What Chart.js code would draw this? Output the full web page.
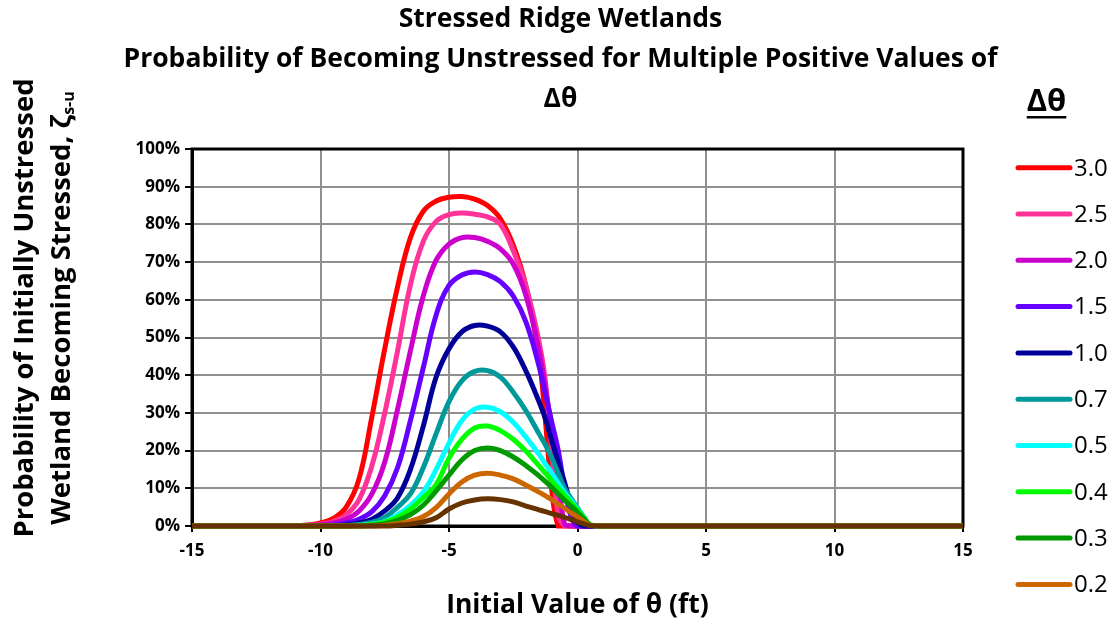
<!DOCTYPE html>
<html>
<head>
<meta charset="utf-8">
<title>Stressed Ridge Wetlands</title>
<script src="https://cdn.jsdelivr.net/npm/chart.js@4.4.1/dist/chart.umd.min.js"></script>
<style>
  html, body { margin: 0; padding: 0; background: #fff; }
  #wrap { width: 1117px; height: 623px; }
</style>
</head>
<body>
<div id="wrap"><canvas id="probChart" width="1117" height="623"></canvas></div>
<script>
// initial theta (ft) sample points shared by all curves
var thetaVals = [-15, -12, -11, -10.5, -10, -9.5, -9, -8.5, -8, -7.5, -7, -6.5, -6, -5.5, -5, -4.5,
                 -4, -3.5, -3, -2.5, -2, -1.5, -1.25, -1, -0.75, -0.5, -0.25, 0, 0.25, 0.5, 1, 15];

var dThetaLabels = ['3.0', '2.5', '2.0', '1.5', '1.0', '0.7', '0.5', '0.4', '0.3', '0.2', '0.1'];
var lineColors = ['#ff0000', '#ff3399', '#cc00cc', '#6600ff', '#000099', '#009999',
                  '#00ffff', '#00ff00', '#009900', '#cc6600', '#663300'];

var titleLines = ['Stressed Ridge Wetlands',
                  'Probability of Becoming Unstressed for Multiple Positive Values of',
                  '\u0394\u03b8'];

// probability (%)
var p30 = [0,0,0.1,0.3,0.8,2,5,12.5,29,47,63.5,76.5,83.5,86.2,87.2,87.4,86.7,85,81.5,74.5,63.5,45,28,9.5,0,0,0,0,0,0,0,0];
var p25 = [0,0,0.05,0.2,0.5,1.2,3,7,16,30,46.5,64,75.5,80.8,82.6,83,82.7,82,80,73,63.5,49,38.5,20,3,0,0,0,0,0,0,0];
var p20 = [0,0,0,0.1,0.3,0.8,1.8,4,8.5,17,31,46.5,61,70.5,74.8,76.5,76.5,75.5,73.5,69.5,61,46.5,36.5,26,13,0.5,0,0,0,0,0,0];
var p15 = [0,0,0,0,0.1,0.3,0.8,1.8,3.8,8,15.5,28,42,56,63.8,66.6,67.4,66.7,64.8,61,54,42.5,35,27.5,20,10,2.5,0,0,0,0,0];
var p10 = [0,0,0,0,0,0.1,0.3,0.8,1.8,4,7.5,15,26.5,39.5,47,51.5,53.2,53,51.5,47.5,41,33,28.5,22.5,17,11.5,5.5,1,0,0,0,0];
var p07 = [0,0,0,0,0,0,0.1,0.4,1,2.3,5,8.5,15.5,24.5,33,38.5,41,41.2,39.5,35.5,30.5,24.5,21.5,18,14,10,7.3,4.8,2.3,0.1,0,0];
var p05 = [0,0,0,0,0,0,0,0.2,0.5,1.2,3,5.5,9,15,22,28,31,31.5,30.3,27.5,23.5,19,16.5,14,11.3,8.8,6.8,4.5,2.3,0.2,0,0];
var p04 = [0,0,0,0,0,0,0,0.1,0.4,1,2.3,4.5,7.5,11,18,23,26,26.5,25.3,23,19.8,16,14,12,10,8.1,6.2,4.2,2.2,0.3,0,0];
var p03 = [0,0,0,0,0,0,0,0,0.2,0.6,1.5,3,5.5,9.3,13.5,17.5,20,20.7,20,18.3,16,13.3,11.8,10.2,8.5,6.8,5.3,3.6,1.9,0.3,0,0];
var p02 = [0,0,0,0,0,0,0,0,0,0.2,0.6,1.3,2.5,4.9,8.5,11.7,13.5,14,13.5,12.5,10.8,9,8,7,5.8,4.7,3.5,2.4,1.2,0.1,0,0];
var p01 = [0,0,0,0,0,0,0,0,0,0,0.2,0.5,1.1,2.2,4.5,6.1,6.9,7.2,7,6.4,5.3,4.3,3.8,3.3,2.8,2.3,1.7,1.1,0.55,0.1,0,0];

var allSeries = [p30, p25, p20, p15, p10, p07, p05, p04, p03, p02, p01];

var fontFam = '"Open Sans", Lato, sans-serif';

var datasets = allSeries.map(function (vals, i) {
  return {
    label: dThetaLabels[i],
    data: vals.map(function (v, j) { return { x: thetaVals[j], y: v }; }),
    borderColor: lineColors[i],
    backgroundColor: lineColors[i],
    borderWidth: 5,
    pointRadius: 0,
    fill: false,
    tension: 0.4,
    clip: 8,
    order: allSeries.length - i   // later (smaller) curves drawn on top
  };
});

// frame, chart title, y title with subscript, and the Δθ legend
var extras = {
  id: 'extras',
  beforeDatasetsDraw: function (chart) {
    var a = chart.chartArea, ctx = chart.ctx;
    ctx.save();
    ctx.strokeStyle = '#000';
    ctx.lineWidth = 3;
    ctx.strokeRect(a.left, a.top, a.right - a.left, a.bottom - a.top);
    ctx.restore();
  },
  afterDraw: function (chart) {
    var ctx = chart.ctx;
    ctx.save();
    ctx.fillStyle = '#000';
    ctx.textBaseline = 'middle';

    // title, centred on the whole picture
    ctx.textAlign = 'center';
    ctx.font = 'bold 26.5px ' + fontFam;
    for (var t = 0; t < titleLines.length; t++) {
      ctx.fillText(titleLines[t], chart.width / 2 + 2, 19 + t * 40);
    }

    // y axis title, two rotated lines
    var cy = 308;
    ctx.save();
    ctx.translate(25, cy);
    ctx.rotate(-Math.PI / 2);
    ctx.font = 'bold 27.5px ' + fontFam;
    ctx.textAlign = 'center';
    ctx.fillText('Probability of Initially Unstressed', 0, 0);
    ctx.restore();

    ctx.save();
    ctx.translate(62, cy);
    ctx.rotate(-Math.PI / 2);
    var main = 'Wetland Becoming Stressed, \u03b6';
    var sub = 's-u';
    ctx.font = 'bold 27.5px ' + fontFam;
    var w1 = ctx.measureText(main).width;
    ctx.font = 'bold 16px ' + fontFam;
    var w2 = ctx.measureText(sub).width;
    var x0 = -(w1 + w2) / 2;
    ctx.textAlign = 'left';
    ctx.font = 'bold 27.5px ' + fontFam;
    ctx.fillText(main, x0, 0);
    ctx.font = 'bold 16px ' + fontFam;
    ctx.fillText(sub, x0 + w1, 7);
    ctx.restore();

    // legend
    ctx.textAlign = 'center';
    ctx.font = 'bold 31px ' + fontFam;
    ctx.fillText('\u0394\u03b8', 1046.5, 102);
    var tw = ctx.measureText('\u0394\u03b8').width;
    ctx.fillRect(1046.5 - tw / 2, 116, tw, 2.5);

    ctx.textAlign = 'left';
    ctx.font = '24px ' + fontFam;
    ctx.lineCap = 'round';
    for (var i = 0; i < dThetaLabels.length; i++) {
      var y = 167.7 + i * 46.3;
      if (y > chart.height - 10) break;
      ctx.strokeStyle = lineColors[i];
      ctx.lineWidth = 5;
      ctx.beginPath();
      ctx.moveTo(1018, y);
      ctx.lineTo(1070, y);
      ctx.stroke();
      ctx.fillText(dThetaLabels[i], 1074, y + 1);
    }
    ctx.restore();
  }
};

var ctx = document.getElementById('probChart');
var probChart = new Chart(ctx, {
  type: 'line',
  data: { datasets: datasets },
  plugins: [extras],
  options: {
    responsive: false,
    animation: false,
    devicePixelRatio: 1,
    layout: { padding: { left: 0, right: 154, top: 149, bottom: 0 } },
    plugins: {
      legend: { display: false },
      tooltip: { enabled: false },
      title: { display: false }
    },
    scales: {
      x: {
        type: 'linear',
        min: -15,
        max: 15,
        afterFit: function (s) { s.height = 97; },
        ticks: {
          stepSize: 5,
          color: '#000',
          padding: 9,
          font: { family: fontFam, size: 17, weight: 'bold' }
        },
        grid: { color: '#8f8f8f', lineWidth: 2, tickLength: 6, tickColor: '#000' },
        border: { color: '#000', width: 3 },
        title: {
          display: true,
          text: 'Initial Value of \u03b8 (ft)',
          color: '#000',
          font: { family: fontFam, size: 26.5, weight: 'bold' },
          padding: { top: 4, bottom: 2 }
        }
      },
      y: {
        min: 0,
        max: 100,
        afterFit: function (s) { s.width = 192; },
        ticks: {
          stepSize: 10,
          color: '#000',
          padding: 5,
          font: { family: fontFam, size: 17, weight: 'bold' },
          callback: function (v) { return v + '%'; }
        },
        grid: { color: '#8f8f8f', lineWidth: 2, tickLength: 7, tickColor: '#000' },
        border: { color: '#000', width: 3 }
      }
    }
  }
});
</script>
</body>
</html>
